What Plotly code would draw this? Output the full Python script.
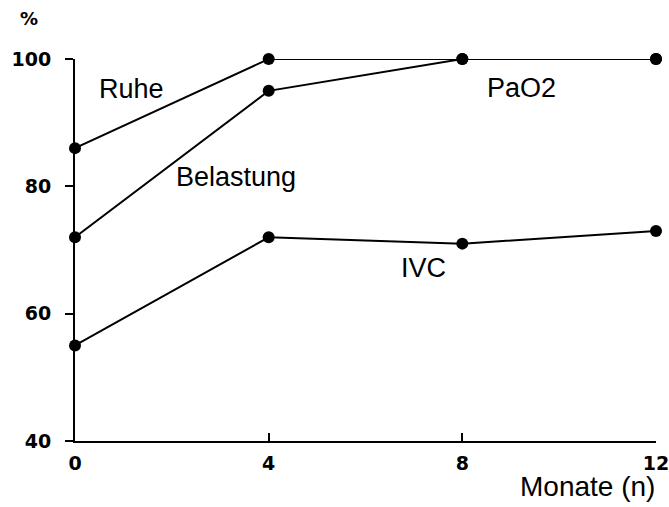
import plotly.graph_objects as go

months = [0, 4, 8, 12]
ruhe = [86, 100, 100, 100]
belastung = [72, 95, 100, 100]
ivc = [55, 72, 71, 73]

y_ticks = [40, 60, 80, 100]
x_ticks = [0, 4, 8, 12]

fig = go.Figure()
for name, vals in [("Ruhe", ruhe), ("Belastung", belastung), ("IVC", ivc)]:
    fig.add_trace(go.Scatter(
        x=months, y=vals, mode="lines+markers", name=name,
        line=dict(color="black", width=2),
        marker=dict(color="black", size=12),
        cliponaxis=False, showlegend=False,
    ))

lab_font = dict(family="Liberation Sans, Arial, sans-serif", size=27, color="black")
annos = [
    ("Ruhe", 0.45, 95.3, "left"),
    ("Belastung", 2.05, 81.4, "left"),
    ("PaO2", 8.47, 95.5, "left"),
    ("IVC", 6.69, 67.1, "left"),
]
for t, x, y, xa in annos:
    fig.add_annotation(x=x, y=y, text=t, showarrow=False, xanchor=xa,
                       yanchor="middle", font=lab_font)

fig.add_annotation(x=1.0017, y=-0.12, xref="paper", yref="paper",
                   text="Monate (n)", showarrow=False,
                   xanchor="right", yanchor="middle",
                   font=dict(family="Liberation Sans, Arial, sans-serif", size=28, color="black"))
fig.add_annotation(x=-0.098, y=1.105, xref="paper", yref="paper",
                   text="%", showarrow=False,
                   xanchor="left", yanchor="middle",
                   font=dict(family="DejaVu Sans", size=18, color="black", weight=700))

tick_font = dict(family="DejaVu Sans", size=19, color="black", weight=700)
fig.update_xaxes(range=[0, 12], tickvals=x_ticks, ticks="inside", ticklen=8,
                 tickwidth=2, tickcolor="black", showline=True, linecolor="black",
                 linewidth=2, showgrid=False, zeroline=False, tickfont=tick_font,
                 ticklabelstandoff=4, ticklabeloverflow="allow", automargin=False)
fig.update_yaxes(range=[40, 100], tickvals=y_ticks, ticks="outside", ticklen=8,
                 tickwidth=2, tickcolor="black", showline=True, linecolor="black",
                 linewidth=2, showgrid=False, zeroline=False, tickfont=tick_font,
                 ticklabelstandoff=10, ticklabeloverflow="allow", automargin=False)

fig.update_layout(
    width=669, height=507,
    margin=dict(l=75, r=13, t=59, b=66),
    plot_bgcolor="white", paper_bgcolor="white",
)
fig.write_html("out.html", config={"displayModeBar": False},
               post_script="document.body.style.margin='0';")
